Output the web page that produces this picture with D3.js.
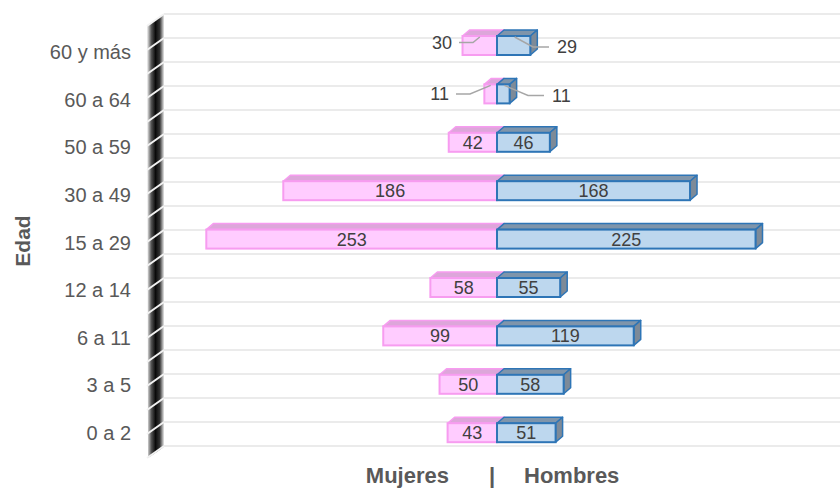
<!DOCTYPE html>
<html>
<head>
<meta charset="utf-8">
<script src="https://cdn.jsdelivr.net/npm/d3@7"></script>
<style>
  body { margin: 0; background: #fff; }
  svg { display: block; font-family: "Liberation Sans", Arial, sans-serif; }
</style>
</head>
<body>
<div id="chart"></div>
<script>
// ========== Data ==========
const categorias = ["60 y más", "60 a 64", "50 a 59", "30 a 49", "15 a 29", "12 a 14", "6 a 11", "3 a 5", "0 a 2"];
const mujeres = [30, 11, 42, 186, 253, 58, 99, 50, 43];
const hombres = [29, 11, 46, 168, 225, 55, 119, 58, 51];
const rotuloFuera = ["60 y más", "60 a 64"]; // labels drawn outside with leader lines

const width = 840, height = 489;
const depth = { dx: 7, dy: -6 };
const barH = 19;

const svg = d3.select("#chart").append("svg")
    .attr("width", width)
    .attr("height", height);

// Scales
const x = d3.scaleLinear().domain([-300, 300]).range([497 - 344.7, 497 + 344.7]);
const yBar = d3.scaleBand().domain(categorias).range([21.3, 456.9]);   // bar front plane
const yLab = d3.scaleBand().domain(categorias).range([28.2, 456.6]);   // axis labels (wall front edge)
const yBack = d3.scaleBand().domain(categorias).range([14, 446]);      // back wall gridlines

// ========== Gridlines on back wall ==========
const gridYs = [];
categorias.forEach(c => { gridYs.push(yBack(c)); gridYs.push(yBack(c) + yBack.bandwidth() / 2); });
gridYs.push(yBack.range()[1]);

svg.append("g").selectAll("line")
    .data(gridYs)
    .enter().append("line")
    .attr("x1", 164).attr("x2", width)
    .attr("y1", d => d).attr("y2", d => d)
    .attr("stroke", "#ebebeb")
    .attr("stroke-width", 2.2);

// ========== Side wall (left) ==========
const defs = svg.append("defs");
const grad = defs.append("linearGradient").attr("id", "wallGrad")
    .attr("x1", "0").attr("x2", "1").attr("y1", "0").attr("y2", "0");
grad.append("stop").attr("offset", "0%").attr("stop-color", "#f4f4f4");
grad.append("stop").attr("offset", "25%").attr("stop-color", "#555");
grad.append("stop").attr("offset", "50%").attr("stop-color", "#0a0a0a");
grad.append("stop").attr("offset", "75%").attr("stop-color", "#333");
grad.append("stop").attr("offset", "100%").attr("stop-color", "#e8e8e8");

svg.append("path")
    .attr("d", "M147,26 L164,14 L164,447 L148,458 Z")
    .attr("fill", "url(#wallGrad)");

svg.append("g").selectAll("line")
    .data(gridYs)
    .enter().append("line")
    .attr("x1", 147).attr("x2", 164)
    .attr("y1", d => d + 12).attr("y2", d => d)
    .attr("stroke", "#f2f2f2")
    .attr("stroke-width", 2);

// ========== Bars ==========
function drawBar(g, x0, x1, yTop, col) {
    const yb = yTop + barH;
    // top face
    g.append("path")
        .attr("d", `M${x0},${yTop} L${x0 + depth.dx},${yTop + depth.dy} L${x1 + depth.dx},${yTop + depth.dy} L${x1},${yTop} Z`)
        .attr("fill", col.top).attr("stroke", col.stroke).attr("stroke-width", 1.5)
        .attr("stroke-linejoin", "round");
    // right side face
    g.append("path")
        .attr("d", `M${x1},${yTop} L${x1 + depth.dx},${yTop + depth.dy} L${x1 + depth.dx},${yb + depth.dy} L${x1},${yb} Z`)
        .attr("fill", col.side).attr("stroke", col.stroke).attr("stroke-width", 1.5)
        .attr("stroke-linejoin", "round");
    // front face
    g.append("rect")
        .attr("x", x0).attr("y", yTop)
        .attr("width", x1 - x0).attr("height", barH)
        .attr("fill", col.front).attr("stroke", col.stroke).attr("stroke-width", 2);
}

const colM = { front: "#ffccff", top: "#dda6da", side: "#dda6da", stroke: "#f79cf0" };
const colH = { front: "#bdd7ee", top: "#7f95ab", side: "#7d8a98", stroke: "#2e75b6" };

const gW = svg.append("g");
const gH = svg.append("g");
categorias.forEach((c, i) => {
    const yTop = yBar(c) + yBar.bandwidth() / 2 - barH / 2;
    drawBar(gW, x(-mujeres[i]), x(0), yTop, colM);
});
categorias.forEach((c, i) => {
    const yTop = yBar(c) + yBar.bandwidth() / 2 - barH / 2;
    drawBar(gH, x(0), x(hombres[i]), yTop, colH);
});

// ========== Value labels ==========
const gLab = svg.append("g")
    .attr("font-size", "18px")
    .attr("fill", "#404040");

categorias.forEach((c, i) => {
    const cy = yBar(c) + yBar.bandwidth() / 2;
    const yTop = cy - barH / 2;
    const xw = x(-mujeres[i]), xh = x(hombres[i]), x0 = x(0);
    if (rotuloFuera.indexOf(c) < 0) {
        gLab.append("text").attr("x", (xw + x0) / 2).attr("y", cy).attr("dy", "0.36em")
            .attr("text-anchor", "middle").text(mujeres[i]);
        gLab.append("text").attr("x", (xh + x0) / 2).attr("y", cy).attr("dy", "0.36em")
            .attr("text-anchor", "middle").text(hombres[i]);
    } else {
        const ly = cy + (i === 0 ? -3 : 0);
        const ry = cy + 1.5;
        // women callout (left)
        const wEnd = [(xw + x0) / 2, yTop + 1];
        const wElbow = [x0 - 24 - i * 3, ly];
        const wStart = [wElbow[0] - 14, ly];
        gLab.append("path")
            .attr("d", d3.line()([wStart, wElbow, wEnd]))
            .attr("fill", "none").attr("stroke", "#a6a6a6").attr("stroke-width", 1.5);
        gLab.append("text").attr("x", wStart[0] - 7).attr("y", ly).attr("dy", "0.36em")
            .attr("text-anchor", "end").text(mujeres[i]);
        // men callout (right)
        const hEnd = [(xh + x0) / 2 + 1, yTop + 1];
        const hElbow = [i === 0 ? 533 : 528, ry];
        const hStart = [hElbow[0] + 16, ry];
        gLab.append("path")
            .attr("d", d3.line()([hEnd, hElbow, hStart]))
            .attr("fill", "none").attr("stroke", "#a6a6a6").attr("stroke-width", 1.5);
        gLab.append("text").attr("x", hStart[0] + 8).attr("y", ry).attr("dy", "0.36em")
            .attr("text-anchor", "start").text(hombres[i]);
    }
});

// ========== Category axis labels ==========
svg.append("g").selectAll("text")
    .data(categorias)
    .enter().append("text")
    .attr("x", 131)
    .attr("y", d => yLab(d) + yLab.bandwidth() / 2)
    .attr("dy", "0.36em")
    .attr("text-anchor", "end")
    .attr("font-size", "20px")
    .attr("fill", "#595959")
    .text(d => d);

// ========== Axis titles ==========
svg.append("text")
    .attr("transform", "translate(30,241) rotate(-90)")
    .attr("text-anchor", "middle")
    .attr("font-size", "21px")
    .attr("font-weight", "bold")
    .attr("fill", "#595959")
    .text("Edad");

const gT = svg.append("g")
    .attr("font-size", "22px")
    .attr("font-weight", "bold")
    .attr("fill", "#595959");
gT.append("text").attr("x", 449).attr("y", 483).attr("text-anchor", "end").text("Mujeres");
gT.append("text").attr("x", 492).attr("y", 483).attr("text-anchor", "middle").text("|");
gT.append("text").attr("x", 524).attr("y", 483).attr("text-anchor", "start").text("Hombres");
</script>
</body>
</html>
